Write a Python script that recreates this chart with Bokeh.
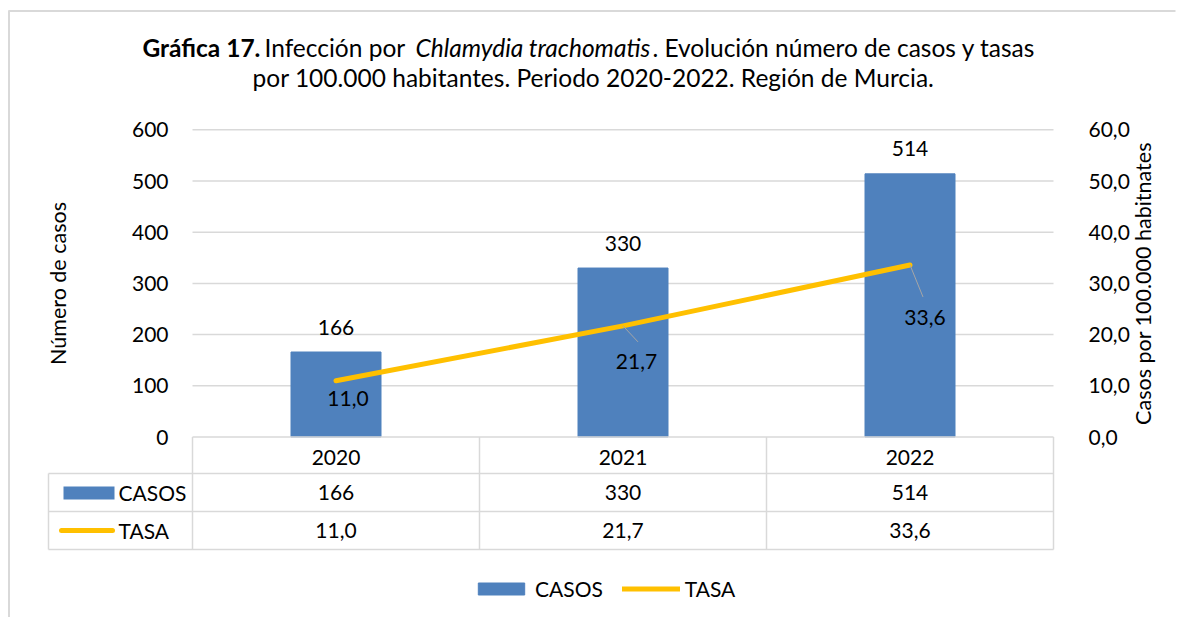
import math
from bokeh.plotting import figure
from bokeh.models import (Range1d, LinearAxis, FixedTicker, CustomJSTickFormatter,
                          Label, Legend, LegendItem)
from bokeh.core.properties import value
from bokeh.embed import file_html
from bokeh.resources import INLINE

# ---------------- data ----------------
years = ["2020", "2021", "2022"]
casos = [166, 330, 514]
tasa = [11.0, 21.7, 33.6]
casos_ticks = [0, 100, 200, 300, 400, 500, 600]
tasa_ticks = [0, 10, 20, 30, 40, 50, 60]
series = ["CASOS", "TASA"]
title_bold = "Gráfica 17."
title_a = "Infección por"
title_italic = "Chlamydia trachomatis"
title_b = ". Evolución número de casos y tasas"
title_line2 = "por 100.000 habitantes. Periodo 2020-2022. Región de Murcia."
left_title = "Número de casos"
right_title = "Casos por 100.000 habitnates"


def fmt_tasa(v):
    return f"{v:.1f}".replace(".", ",")


# ---------------- layout ----------------
FONT = "Lato"
FS = "21px"
AFS = "21.5px"
TFS = "24.5px"
GRID = "#d9d9d9"
BLUE = "#4f81bd"
YELLOW = "#ffc000"

W, H = 1177, 617
OX, OY = 0, 0
CAT_L, CAT_R = 192, 1053
ZERO_Y, TOP_Y = 436.5, 129.3
CASOS_MAX = casos_ticks[-1]
TASA_MAX = tasa_ticks[-1]
sx = len(years) / (CAT_R - CAT_L)
sy = CASOS_MAX / (ZERO_Y - TOP_Y)
x_start = -0.5 - (CAT_L - OX) * sx
x_end = x_start + W * sx
y_end = (ZERO_Y - OY) * sy
y_start = y_end - H * sy
ratio = CASOS_MAX / TASA_MAX


def X(px):
    return x_start + (px - OX) * sx


def Y(py):
    return y_end - (py - OY) * sy


xs = list(range(len(years)))
left_edge = -0.5
right_edge = len(years) - 0.5

p = figure(width=W, height=H, x_range=Range1d(x_start, x_end), y_range=Range1d(y_start, y_end),
           x_axis_type=None, y_axis_type=None, toolbar_location=None, output_backend="svg",
           min_border=0, outline_line_color=None, background_fill_color="white",
           border_fill_color="white")
p.extra_y_ranges = {"tasa": Range1d(y_start / ratio, y_end / ratio)}

# outer chart border (top & left visible)
p.segment(x0=[X(8), X(8.5)], y0=[Y(10.5), Y(10)], x1=[X(W), X(8.5)], y1=[Y(10.5), Y(H)],
          line_color=GRID, line_width=2)

# gridlines
gy = casos_ticks[1:]
p.segment(x0=[left_edge] * len(gy), x1=[right_edge] * len(gy), y0=gy, y1=gy,
          line_color=GRID, line_width=1.5)

# axes (fixed inside the frame; labels of the secondary axis face right)
yl = LinearAxis(fixed_location=left_edge, ticker=FixedTicker(ticks=casos_ticks),
                axis_line_color=None, major_tick_line_color=None, minor_tick_line_color=None,
                major_tick_out=0, major_tick_in=0, major_label_standoff=24,
                major_label_text_font=FONT, major_label_text_font_size=FS,
                major_label_text_color="black")
p.add_layout(yl, "left")
yr = LinearAxis(y_range_name="tasa", fixed_location=right_edge, ticker=FixedTicker(ticks=tasa_ticks),
                formatter=CustomJSTickFormatter(code="return tick.toFixed(1).replace('.', ',');"),
                axis_line_color=None, major_tick_line_color=None, minor_tick_line_color=None,
                major_tick_out=0, major_tick_in=0, major_label_standoff=35,
                major_label_text_font=FONT, major_label_text_font_size=FS,
                major_label_text_color="black")
p.add_layout(yr, "right")
p.min_border_right = 0

# bars and line
bars = p.vbar(x=xs, top=casos, width=90 * sx, fill_color=BLUE, line_color=BLUE)
line = p.line(x=xs, y=tasa, y_range_name="tasa", line_color=YELLOW, line_width=5,
              line_cap="round", line_join="round")

# bar labels
p.text(x=xs, y=casos, text=[str(v) for v in casos], text_font=value(FONT), text_font_size=FS,
       text_align="center", text_baseline="alphabetic", y_offset=-25, text_color="black")

# line labels with leader lines
lab_dx = [12, 13.5, 15]
lab_dy = [18, 35.5, 52.5]
lead_dx = [0, 15, 13]
lead_dy = [0, 16, 32]
p.segment(x0=xs[1:], y0=tasa[1:],
          x1=[x + d * sx for x, d in zip(xs[1:], lead_dx[1:])],
          y1=[t - d * sy / ratio for t, d in zip(tasa[1:], lead_dy[1:])],
          y_range_name="tasa", line_color="#a6a6a6", line_width=1)
p.text(x=xs, y=tasa, text=[fmt_tasa(v) for v in tasa], y_range_name="tasa",
       x_offset=lab_dx, y_offset=lab_dy, text_font=value(FONT), text_font_size=FS,
       text_align="center", text_baseline="middle", text_color="black")

# ---------------- data table ----------------
row_lines = [473, 511, 549]
TL = 48
p.segment(x0=[left_edge] + [X(TL)] * 3, x1=[right_edge] * 4,
          y0=[0] + [Y(r) for r in row_lines], y1=[0] + [Y(r) for r in row_lines],
          line_color=GRID, line_width=1.5)
vx = [X(TL)] + [i - 0.5 for i in range(len(years) + 1)]
p.segment(x0=vx, x1=vx, y0=[Y(473)] + [0] * (len(years) + 1), y1=[Y(549)] * (len(years) + 2),
          line_color=GRID, line_width=1.5)
p.text(x=xs, y=[Y(457)] * 3, text=years, text_font=value(FONT), text_font_size=FS,
       text_align="center", text_baseline="middle", text_color="black")
p.text(x=xs, y=[Y(492)] * 3, text=[str(v) for v in casos], text_font=value(FONT), text_font_size=FS,
       text_align="center", text_baseline="middle", text_color="black")
p.text(x=xs, y=[Y(530)] * 3, text=[fmt_tasa(v) for v in tasa], text_font=value(FONT), text_font_size=FS,
       text_align="center", text_baseline="middle", text_color="black")
p.text(x=[X(118), X(118)], y=[Y(492), Y(530)], text=series, text_font=value(FONT), text_font_size=FS,
       text_align="left", text_baseline="middle", text_color="black")
p.quad(left=[X(63)], right=[X(114)], top=[Y(486)], bottom=[Y(499)], fill_color=BLUE, line_color=None)
p.segment(x0=[X(61)], x1=[X(112)], y0=[Y(530)], y1=[Y(530)], line_color=YELLOW, line_width=5,
          line_cap="round")

# ---------------- titles ----------------
for txt, px, style, align in [(title_bold, 142, "bold", "left"), (title_a, 264, "normal", "left"),
                               (title_italic, 415, "italic", "left"), (title_b, 1035, "normal", "right")]:
    p.add_layout(Label(x=X(px), y=Y(47), text=txt, text_font=FONT, text_font_size=TFS,
                       text_font_style=style, text_align=align, text_baseline="middle",
                       text_color="black"))
p.add_layout(Label(x=X(593), y=Y(77), text=title_line2, text_font=FONT, text_font_size=TFS,
                   text_align="center", text_baseline="middle", text_color="black"))
p.add_layout(Label(x=X(57), y=Y(283), text=left_title, angle=math.pi / 2, text_font=FONT,
                   text_font_size=AFS, text_align="center", text_baseline="middle", text_color="black"))
p.add_layout(Label(x=X(1142), y=Y(283), text=right_title, angle=math.pi / 2, text_font=FONT,
                   text_font_size=AFS, text_align="center", text_baseline="middle", text_color="black"))

# ---------------- legend ----------------
legend = Legend(items=[LegendItem(label=series[0], renderers=[bars]),
                       LegendItem(label=series[1], renderers=[line])],
                location=(472 - OX, H - 601), orientation="horizontal", glyph_width=58, glyph_height=15,
                label_standoff=5, spacing=19, padding=0, margin=0, border_line_color=None,
                background_fill_alpha=0, label_text_font=FONT, label_text_font_size=FS,
                label_text_color="black", label_height=15)
p.add_layout(legend)

# white strip covering the right canvas edge
p.segment(x0=[X(W - 0.5)], x1=[X(W - 0.5)], y0=[Y(0)], y1=[Y(H)], line_color="white", line_width=3)

open("out.html", "w").write(file_html(p, INLINE))
